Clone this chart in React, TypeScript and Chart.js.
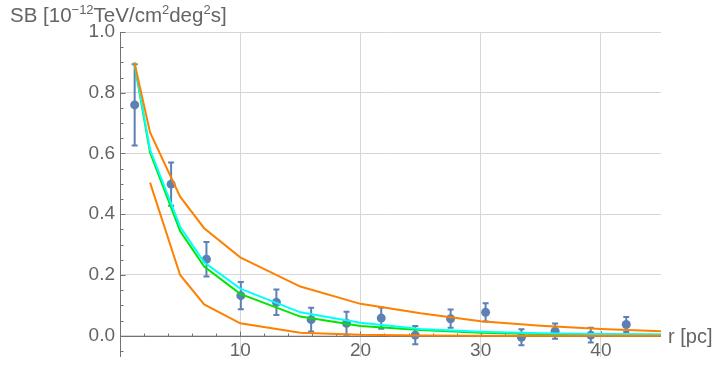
import React, { useEffect, useRef } from 'react';
import { Chart, registerables } from 'chart.js';

Chart.register(...registerables);

// Measured surface brightness points
const rData = [1.22, 4.25, 7.19, 10.05, 13.01, 15.9, 18.84, 21.73, 24.56, 27.5, 30.41, 33.39, 36.19, 39.16, 42.11];
const sbData = [0.76, 0.499, 0.252, 0.132, 0.110, 0.053, 0.041, 0.058, 0.002, 0.056, 0.077, -0.005, 0.015, 0.002, 0.037];
const sbErr = [0.134, 0.071, 0.057, 0.045, 0.042, 0.039, 0.038, 0.035, 0.030, 0.030, 0.030, 0.026, 0.025, 0.024, 0.025];

// Model curves
const rModel = [1.2, 2.5, 5, 7, 10, 15, 20, 25, 30, 35, 40, 45];
const sbUpper = [0.9, 0.669, 0.458, 0.354, 0.258, 0.162, 0.105, 0.074, 0.048, 0.033, 0.022, 0.015];
const sbLower = [null, 0.504, 0.2, 0.103, 0.041, 0.01, 0.003, 0.001, 0.0, 0.0, 0.0, 0.0];
const sbCyan = [0.9, 0.612, 0.359, 0.242, 0.155, 0.077, 0.043, 0.022, 0.013, 0.008, 0.006, 0.004];
const sbGreen = [0.895, 0.603, 0.345, 0.228, 0.138, 0.063, 0.032, 0.019, 0.01, 0.006, 0.004, 0.003];

const xTicks = [10, 20, 30, 40];
const yTicks = [0, 0.2, 0.4, 0.6, 0.8, 1.0];

const FONT = '"Liberation Sans", Arial, sans-serif';
const LABEL_COLOR = '#646464';
const AXIS_COLOR = '#737373';
const GRID_COLOR = '#d6d6d6';
const POINT_COLOR = '#5E81B5';

const toXY = (xs: number[], ys: (number | null)[]) =>
  xs.map((x, i) => ({ x, y: ys[i] })).filter((p) => p.y !== null) as { x: number; y: number }[];

const axesPlugin = {
  id: 'mmaAxes',
  beforeDatasetsDraw(chart: any) {
    const { ctx, chartArea: ca, scales } = chart;
    const xs = scales.x;
    const ys = scales.y;
    const y0 = Math.round(ys.getPixelForValue(0)) + 0.5;
    const xl = Math.round(ca.left) + 0.5;
    ctx.save();
    ctx.strokeStyle = AXIS_COLOR;
    ctx.lineWidth = 1;
    ctx.beginPath();
    ctx.moveTo(ca.left, y0);
    ctx.lineTo(ca.right, y0);
    ctx.moveTo(xl, ca.top);
    ctx.lineTo(xl, ca.bottom);
    for (let v = 2; v <= 44; v += 2) {
      const px = Math.round(xs.getPixelForValue(v)) + 0.5;
      const len = v % 10 === 0 ? 5 : 3;
      ctx.moveTo(px, y0);
      ctx.lineTo(px, y0 - len);
    }
    for (let k = -1; k <= 20; k++) {
      const v = k * 0.05;
      const py = Math.round(ys.getPixelForValue(v)) + 0.5;
      const len = k % 4 === 0 ? 5 : 3;
      ctx.moveTo(xl, py);
      ctx.lineTo(xl + len, py);
    }
    ctx.stroke();
    ctx.restore();
  },
};

const errorBarPlugin = {
  id: 'errorBars',
  beforeDatasetDraw(chart: any, args: any) {
    if (args.index !== 4) return;
    const { ctx, scales } = chart;
    const xs = scales.x;
    const ys = scales.y;
    ctx.save();
    ctx.strokeStyle = POINT_COLOR;
    ctx.lineWidth = 2;
    ctx.beginPath();
    rData.forEach((r, i) => {
      const px = xs.getPixelForValue(r);
      const top = ys.getPixelForValue(sbData[i] + sbErr[i]);
      const bot = ys.getPixelForValue(sbData[i] - sbErr[i]);
      ctx.moveTo(px, top);
      ctx.lineTo(px, bot);
      ctx.moveTo(px - 3, top);
      ctx.lineTo(px + 3, top);
      ctx.moveTo(px - 3, bot);
      ctx.lineTo(px + 3, bot);
    });
    ctx.stroke();
    ctx.restore();
  },
};

export default function App() {
  const canvasRef = useRef<HTMLCanvasElement | null>(null);

  useEffect(() => {
    if (!canvasRef.current) return;
    const lineDs = (label: string, ys: (number | null)[], color: string) => ({
      type: 'line' as const,
      label,
      data: toXY(rModel, ys),
      borderColor: color,
      backgroundColor: color,
      borderWidth: 2,
      pointRadius: 0,
      tension: 0,
      fill: false,
      showLine: true,
    });
    const chart = new Chart(canvasRef.current, {
      type: 'scatter',
      data: {
        datasets: [
          lineDs('upper', sbUpper, '#FF8000'),
          lineDs('lower', sbLower, '#FF8000'),
          lineDs('cyan', sbCyan, '#00FFFF'),
          lineDs('green', sbGreen, '#00E600'),
          {
            type: 'scatter' as const,
            label: 'data',
            data: toXY(rData, sbData),
            backgroundColor: POINT_COLOR,
            borderWidth: 0,
            pointRadius: 4.5,
            pointHoverRadius: 4.5,
          },
        ],
      } as any,
      options: {
        animation: false,
        responsive: false,
        maintainAspectRatio: false,
        events: [],
        layout: { padding: { left: 0, right: 52, top: 32, bottom: 12 } },
        plugins: {
          legend: { display: false },
          tooltip: { enabled: false },
        },
        scales: {
          x: {
            type: 'linear',
            position: { y: 0 } as any,
            min: 0,
            max: 45,
            afterFit: (s: any) => {
              s.paddingLeft = 0;
              s.paddingRight = 0;
            },
            afterBuildTicks: (s: any) => {
              s.ticks = xTicks.map((v) => ({ value: v }));
            },
            grid: { color: GRID_COLOR, lineWidth: 1, drawTicks: false },
            border: { display: false },
            ticks: {
              padding: 4,
              color: LABEL_COLOR,
              font: { family: FONT, size: 19 },
              maxRotation: 0,
              callback: (v: any) => String(v),
            },
          },
          y: {
            type: 'linear',
            position: 'left',
            min: -0.07,
            max: 1.0,
            afterFit: (s: any) => {
              s.width = 120;
              s.paddingTop = 0;
              s.paddingBottom = 0;
            },
            afterBuildTicks: (s: any) => {
              s.ticks = yTicks.map((v) => ({ value: v }));
            },
            grid: { color: GRID_COLOR, lineWidth: 1, drawTicks: false },
            border: { display: false },
            ticks: {
              padding: 5,
              color: LABEL_COLOR,
              font: { family: FONT, size: 19 },
              callback: (v: any) => Number(v).toFixed(1),
            },
          },
        },
      },
      plugins: [axesPlugin, errorBarPlugin],
    } as any);
    return () => chart.destroy();
  }, []);

  const textStyle: React.CSSProperties = {
    position: 'absolute',
    fontFamily: FONT,
    fontSize: 20,
    lineHeight: '20px',
    color: LABEL_COLOR,
    whiteSpace: 'nowrap',
  };
  const sup: React.CSSProperties = { fontSize: 13, position: 'relative', top: -8 };

  return (
    <div style={{ position: 'absolute', left: 0, top: 0, width: 713, height: 369, background: '#fff' }}>
      <canvas ref={canvasRef} width={713} height={369} style={{ display: 'block' }} />
      <div style={{ ...textStyle, left: 10, top: 5, fontSize: 20.5 }}>
        SB [10<span style={sup}>−12</span>TeV/cm<span style={sup}>2</span>deg<span style={sup}>2</span>s]
      </div>
      <div style={{ ...textStyle, left: 668, top: 326 }}>r [pc]</div>
    </div>
  );
}
